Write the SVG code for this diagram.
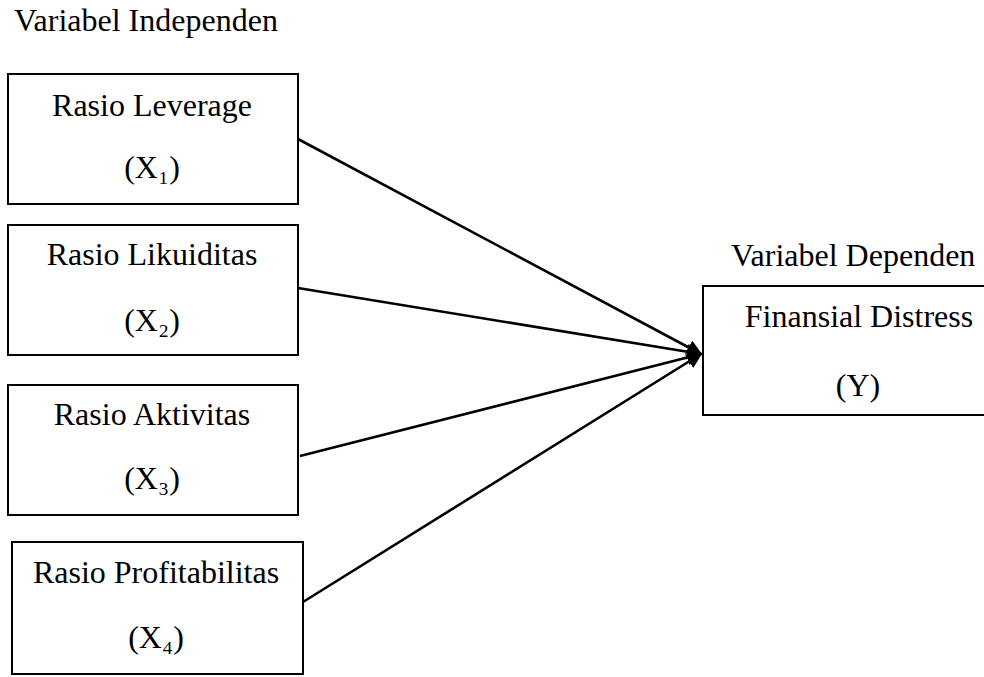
<svg xmlns="http://www.w3.org/2000/svg" width="984" height="677" viewBox="0 0 984 677">
<style>
text{font-family:"Liberation Serif","Times New Roman",serif;font-size:32px;fill:#000}
.box{fill:#fff;stroke:#000;stroke-width:2}
.c{stroke:#000;stroke-width:2.6;fill:none}
</style>
<defs>
<marker id="ah" viewBox="0 0 10 10" refX="9" refY="5" markerWidth="6" markerHeight="6" markerUnits="strokeWidth" orient="auto">
<path d="M0,0 L10,5 L0,10 z" fill="#000"/>
</marker>
</defs>
<rect width="984" height="677" fill="#fff"/>
<text x="14" y="31">Variabel Independen</text>
<text x="731" y="266">Variabel Dependen</text>
<g id="x1">
<rect class="box" x="8" y="74" width="290" height="130"/>
<text x="152" y="116" text-anchor="middle">Rasio Leverage</text>
<text x="152" y="178" text-anchor="middle">(X₁)</text>
</g>
<g id="x2">
<rect class="box" x="8" y="225" width="290" height="130"/>
<text x="152" y="265" text-anchor="middle">Rasio Likuiditas</text>
<text x="152" y="331" text-anchor="middle">(X₂)</text>
</g>
<g id="x3">
<rect class="box" x="8" y="385" width="290" height="130"/>
<text x="152" y="425" text-anchor="middle">Rasio Aktivitas</text>
<text x="152" y="489" text-anchor="middle">(X₃)</text>
</g>
<g id="x4">
<rect class="box" x="12" y="542" width="291" height="132"/>
<text x="156" y="583" text-anchor="middle">Rasio Profitabilitas</text>
<text x="156" y="648" text-anchor="middle">(X₄)</text>
</g>
<g id="y">
<rect class="box" x="703" y="286" width="292" height="129"/>
<text x="859" y="327" text-anchor="middle">Finansial Distress</text>
<text x="858" y="396" text-anchor="middle">(Y)</text>
</g>
<g id="connectors">
<line class="c" x1="298" y1="139" x2="701" y2="354" marker-end="url(#ah)"/>
<line class="c" x1="298" y1="288" x2="701" y2="354" marker-end="url(#ah)"/>
<line class="c" x1="300" y1="456" x2="701" y2="354" marker-end="url(#ah)"/>
<line class="c" x1="303" y1="602" x2="701" y2="354" marker-end="url(#ah)"/>
</g>
</svg>
